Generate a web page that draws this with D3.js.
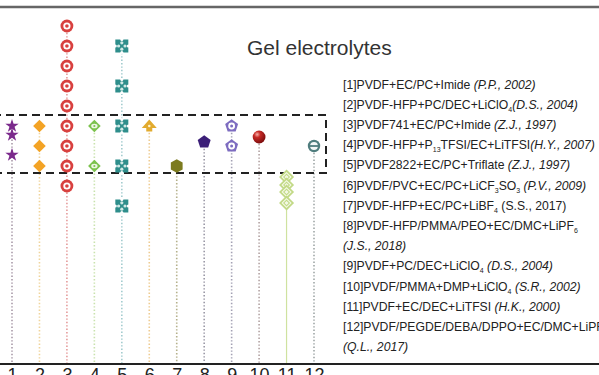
<!DOCTYPE html>
<meta charset="utf-8">
<style>
    body { margin: 0; background: #fff; }
    text { font-family: "Liberation Sans", Arial, sans-serif; fill: #222; }
</style>
<body>
<script src="https://cdn.jsdelivr.net/npm/d3@7"></script>
<script>
    var width = 599
    var height = 375

    // reference numbers along the bottom axis
    var refs = ['1', '2', '3', '4', '5', '6', '7', '8', '9', '10', '11', '12']

    // values (arbitrary vertical units, 10 units per grid step)
    var ref1 = [30, 25.5, 15.5]
    var ref2 = [30, 20, 10]
    var ref3 = [80, 70, 60, 50, 40, 30, 20, 10, 0]
    var ref4 = [30, 10]
    var ref5 = [70, 50, 30, 10, -10]
    var ref6 = [30]
    var ref7 = [10]
    var ref8 = [22]
    var ref9 = [30, 20]
    var ref10 = [24.5]
    var ref11 = [4.5, 0.5, -3, -8.5]
    var ref12 = [20]
    var series = [ref1, ref2, ref3, ref4, ref5, ref6, ref7, ref8, ref9, ref10, ref11, ref12]

    // highlighted band (dashed box)
    var bandRange = [6.5, 35.5]

    var markerColors = ['#7b2a8c', '#f3a325', '#d8413f', '#7cc24d', '#2e8e8b', '#e2ab2e',
        '#7c7b1f', '#3c1f78', '#7d6cc0', '#b0191b', '#c2d986', '#4f7d7e']
    var lineColors = ['#a89aa8', '#f0d49a', '#e49a9a', '#c9e2ad', '#a3cccf', '#eecb90',
        '#b4b08a', '#9a98a6', '#a3a1b4', '#b2a2a2', '#cfe2a0', '#9ea6a6']

    var title = 'Gel electrolytes'

    // legend lines: [text, style] with style n = normal, i = italic, s = subscript
    var legendLines = [
        [['[1]PVDF+EC/PC+Imide ', 'n'], ['(P.P., 2002)', 'i']],
        [['[2]PVDF-HFP+PC/DEC+LiClO', 'n'], ['4', 's'], ['(D.S., 2004)', 'i']],
        [['[3]PVDF741+EC/PC+Imide ', 'n'], ['(Z.J., 1997)', 'i']],
        [['[4]PVDF-HFP+P', 'n'], ['13', 's'], ['TFSI/EC+LiTFSI', 'n'], ['(H.Y., 2007)', 'i']],
        [['[5]PVDF2822+EC/PC+Triflate ', 'n'], ['(Z.J., 1997)', 'i']],
        [['[6]PVDF/PVC+EC/PC+LiCF', 'n'], ['3', 's'], ['SO', 'n'], ['3', 's'], [' ', 'n'], ['(P.V., 2009)', 'i']],
        [['[7]PVDF-HFP+EC/PC+LiBF', 'n'], ['4', 's'], [' (S.S., 2017)', 'n']],
        [['[8]PVDF-HFP/PMMA/PEO+EC/DMC+LiPF', 'n'], ['6', 's']],
        [['(J.S., 2018)', 'i']],
        [['[9]PVDF+PC/DEC+LiClO', 'n'], ['4', 's'], [' ', 'n'], ['(D.S., 2004)', 'i']],
        [['[10]PVDF/PMMA+DMP+LiClO', 'n'], ['4', 's'], [' ', 'n'], ['(S.R., 2002)', 'i']],
        [['[11]PVDF+EC/DEC+LiTFSI ', 'n'], ['(H.K., 2000)', 'i']],
        [['[12]PVDF/PEGDE/DEBA/DPPO+EC/DMC+LiPF', 'n'], ['6', 's']],
        [['(Q.L., 2017)', 'i']]
    ]

    var x = d3.scalePoint().domain(refs).range([12, 314])
    var y = d3.scaleLinear().domain([-89, 90]).range([364, 6])

    var svg = d3.select('body').append('svg')
        .attr('width', width)
        .attr('height', height)

    var defs = svg.append('defs')
    var grad = defs.append('radialGradient').attr('id', 'ball')
        .attr('cx', '35%').attr('cy', '30%').attr('r', '70%')
    grad.append('stop').attr('offset', '0%').attr('stop-color', '#f7b0a8')
    grad.append('stop').attr('offset', '35%').attr('stop-color', '#c62a26')
    grad.append('stop').attr('offset', '100%').attr('stop-color', '#7e0d0d')

    // top frame line
    svg.append('line')
        .attr('x1', 0).attr('x2', width)
        .attr('y1', y(90) + 1).attr('y2', y(90) + 1)
        .style('stroke', '#666').style('stroke-width', 2.5)

    // dotted stems from the highest point down to the axis
    svg.selectAll('.stem')
        .data(series)
        .enter().append('line')
        .attr('class', 'stem')
        .attr('x1', function (d, i) { return x(refs[i]) })
        .attr('x2', function (d, i) { return x(refs[i]) })
        .attr('y1', function (d) { return y(d3.max(d)) })
        .attr('y2', y(-89))
        .style('stroke', function (d, i) { return lineColors[i] })
        .style('stroke-width', function (d, i) { return i === 10 ? 1.2 : 1.6 })
        .style('stroke-dasharray', function (d, i) { return i === 10 ? null : '1.4,2' })

    // dashed highlight box
    var bx0 = -20
    var bx1 = 326
    svg.append('path')
        .attr('d', 'M' + bx0 + ',' + y(bandRange[1]) + 'H' + bx1 + 'V' + y(bandRange[0]) + 'H' + bx0)
        .style('fill', 'none')
        .style('stroke', '#222')
        .style('stroke-width', 2)
        .style('stroke-dasharray', '8,5')

    // marker drawers
    function polygon(n, r, rot) {
        var pts = d3.range(n).map(function (k) {
            var a = rot + k * 2 * Math.PI / n
            return [r * Math.sin(a), -r * Math.cos(a)]
        })
        return 'M' + pts.join('L') + 'Z'
    }
    var diamond = d3.symbol().type(d3.symbolSquare).size(80)()
    var star = d3.symbol().type(d3.symbolStar).size(56)()

    var drawers = [
        function (g, c) { g.append('path').attr('d', star).style('fill', c) },
        function (g, c) { g.append('path').attr('d', diamond).attr('transform', 'rotate(45)').style('fill', c) },
        function (g, c) {
            g.append('circle').attr('r', 6.4).style('fill', c)
            g.append('circle').attr('r', 3.6).style('fill', '#fff')
            g.append('circle').attr('r', 1.8).style('fill', c)
        },
        function (g, c) {
            g.append('path').attr('d', diamond).attr('transform', 'rotate(45)').style('fill', c)
            g.append('ellipse').attr('rx', 3.2).attr('ry', 2.3).style('fill', '#eef6e4')
            g.append('circle').attr('r', 1.1).style('fill', c)
        },
        function (g, c) {
            g.append('rect').attr('x', -6.5).attr('y', -6.5).attr('width', 13).attr('height', 13).style('fill', c)
            ;[[-3.2, 0], [3.2, 0], [0, -3.2], [0, 3.2]].forEach(function (p) {
                g.append('circle').attr('cx', p[0]).attr('cy', p[1]).attr('r', 1.6).style('fill', '#cfe9e6')
            })
            ;[[-6.5, 0], [6.5, 0], [0, -6.5], [0, 6.5]].forEach(function (p) {
                g.append('circle').attr('cx', p[0]).attr('cy', p[1]).attr('r', 1.5).style('fill', '#fff')
            })
        },
        function (g, c) {
            g.append('path').attr('d', 'M0,-6.5L-7.5,2L-3,2L-3,5.5L3,5.5L3,2L7.5,2Z').style('fill', c)
            g.append('circle').attr('cy', 0).attr('r', 1.3).style('fill', '#fff3d0')
        },
        function (g, c) { g.append('path').attr('d', polygon(6, 6.8, 0)).style('fill', c) },
        function (g, c) { g.append('path').attr('d', polygon(5, 6.8, 0)).style('fill', c) },
        function (g, c) {
            g.append('path').attr('d', polygon(5, 6.8, 0)).style('fill', c)
            g.append('circle').attr('r', 3.4).style('fill', '#fff')
            g.append('circle').attr('r', 1.5).style('fill', c)
        },
        function (g, c) { g.append('circle').attr('r', 6.4).style('fill', 'url(#ball)') },
        function (g, c) {
            g.append('path').attr('d', diamond).attr('transform', 'rotate(45)')
                .style('fill', '#f4f9e6').style('stroke', c).style('stroke-width', 1.7)
            g.append('path').attr('d', d3.symbol().type(d3.symbolSquare).size(16)()).attr('transform', 'rotate(45)')
                .style('fill', 'none').style('stroke', c).style('stroke-width', 1)
        },
        function (g, c) {
            g.append('circle').attr('r', 6.2).style('fill', c)
            g.append('circle').attr('r', 3.9).style('fill', '#f2f6f6')
            g.append('rect').attr('x', -4).attr('y', -0.9).attr('width', 8).attr('height', 1.8).style('fill', c)
        }
    ]

    series.forEach(function (vals, i) {
        svg.selectAll('.m' + i)
            .data(vals)
            .enter().append('g')
            .attr('class', 'm' + i)
            .attr('transform', function (d) { return 'translate(' + x(refs[i]) + ',' + y(d) + ')' })
            .each(function () { drawers[i](d3.select(this), markerColors[i]) })
    })

    // bottom axis
    var axis = svg.append('g')
        .attr('transform', 'translate(0,' + y(-89) + ')')
        .call(d3.axisBottom(x).tickSize(0).tickPadding(0))
    axis.select('.domain').remove()
    axis.append('line')
        .attr('x1', 0).attr('x2', width)
        .style('stroke', '#222').style('stroke-width', 2)
    axis.selectAll('text')
        .attr('dy', null)
        .attr('y', 17)
        .style('font-size', '18px')
        .style('font-family', '"Liberation Sans", Arial, sans-serif')
        .style('fill', '#222')

    // title
    svg.append('text')
        .attr('x', 247)
        .attr('y', 54.5)
        .style('font-size', '21px')
        .style('fill', '#333')
        .text(title)

    // legend
    var legend = svg.append('g').attr('transform', 'translate(343,88.5)')
    legendLines.forEach(function (parts, i) {
        var t = legend.append('text')
            .attr('y', i * 20.2)
            .style('font-size', '12.2px')
        var shifted = false
        parts.forEach(function (p) {
            var ts = t.append('tspan').text(p[0])
            if (p[1] === 's') {
                ts.attr('dy', 3).style('font-size', '7px')
                shifted = true
            } else {
                if (shifted) { ts.attr('dy', -3); shifted = false }
                if (p[1] === 'i') ts.style('font-style', 'italic')
            }
        })
    })
</script>
</body>
